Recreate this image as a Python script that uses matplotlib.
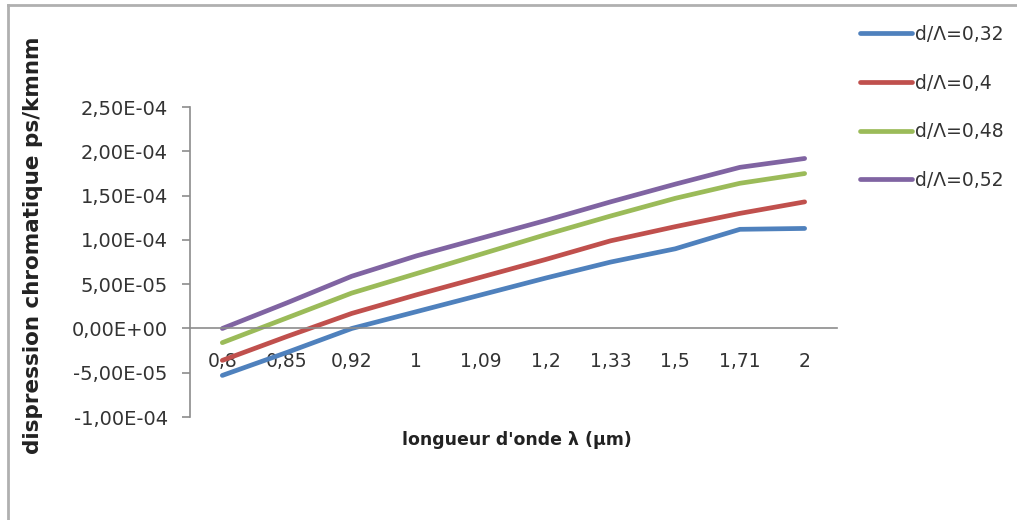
import matplotlib
matplotlib.use("Agg")
import matplotlib.pyplot as plt
from matplotlib.lines import Line2D
from matplotlib.ticker import FuncFormatter

# Wavelength categories (µm) and chromatic dispersion values per d/Λ ratio
wavelengths = ["0,8", "0,85", "0,92", "1", "1,09", "1,2", "1,33", "1,5", "1,71", "2"]
disp_032 = [-5.3e-05, -2.7e-05, 0.0e-05, 1.9e-05, 3.8e-05, 5.7e-05, 7.5e-05, 9.0e-05, 11.2e-05, 11.3e-05]
disp_040 = [-3.6e-05, -0.9e-05, 1.7e-05, 3.8e-05, 5.8e-05, 7.8e-05, 9.9e-05, 11.5e-05, 13.0e-05, 14.3e-05]
disp_048 = [-1.6e-05, 1.2e-05, 4.0e-05, 6.2e-05, 8.4e-05, 10.6e-05, 12.7e-05, 14.7e-05, 16.4e-05, 17.5e-05]
disp_052 = [0.0e-05, 2.9e-05, 5.9e-05, 8.2e-05, 10.2e-05, 12.2e-05, 14.3e-05, 16.3e-05, 18.2e-05, 19.2e-05]
series_labels = ["d/Λ=0,32", "d/Λ=0,4", "d/Λ=0,48", "d/Λ=0,52"]
series_colors = ["#4F81BD", "#C0504D", "#9BBB59", "#8064A2"]
y_ticks = [-1.0e-04, -5.0e-05, 0.0, 5.0e-05, 1.0e-04, 1.5e-04, 2.0e-04, 2.5e-04]

plt.rcParams["font.family"] = ["DejaVu Sans"]
text_color = "#333333"
axis_color = "#8c8c8c"

fig = plt.figure(figsize=(10.17, 5.2), dpi=100)
ax = fig.add_axes([0.1868, 0.198, 0.6362, 0.596])

x = list(range(len(wavelengths)))
for values, label, color in zip([disp_032, disp_040, disp_048, disp_052],
                                series_labels, series_colors):
    ax.plot(x, values, color=color, lw=3.4, label=label,
            solid_capstyle="round", solid_joinstyle="round")

ax.set_xlim(-0.5, len(wavelengths) - 0.5)
ax.set_ylim(-1.0e-04, 2.5e-04)
ax.set_yticks(y_ticks)
ax.yaxis.set_major_formatter(
    FuncFormatter(lambda v, _: ("%.2E" % v).replace(".", ",")))
ax.set_xticks(x)
ax.set_xticklabels(wavelengths)

for side in ("top", "right"):
    ax.spines[side].set_visible(False)
ax.spines["bottom"].set_position(("data", 0))
for side in ("left", "bottom"):
    ax.spines[side].set_color(axis_color)
    ax.spines[side].set_linewidth(1.2)

ax.tick_params(axis="y", direction="out", length=6, width=1.2,
               color=axis_color, labelsize=14, labelcolor=text_color, pad=10)
ax.tick_params(axis="x", length=0, labelsize=13.5, labelcolor=text_color, pad=17)

# Axis titles
fig.text(0.0325, 0.529, "dispression chromatique ps/kmnm", rotation=90,
         ha="center", va="center", fontsize=15.5, fontweight="bold",
         color="#222222")
fig.text(517 / 1017, 0.154, "longueur d'onde λ (µm)", ha="center",
         va="center", fontsize=12.5, fontweight="bold", color="#222222")

leg = fig.legend(loc="upper left", bbox_to_anchor=(0.8456, 0.952),
                 frameon=False, fontsize=13.5, handlelength=2.8,
                 handletextpad=0.15, labelspacing=1.58, borderpad=0,
                 borderaxespad=0)
for t in leg.get_texts():
    t.set_color(text_color)

# Chart area border
border_kw = dict(transform=fig.transFigure, color="#b0b0b0", lw=2)
fig.add_artist(Line2D([8 / 1017, 8 / 1017], [0, 1 - 5 / 520], **border_kw))
fig.add_artist(Line2D([8 / 1017, 1], [1 - 5 / 520, 1 - 5 / 520], **border_kw))

fig.savefig("out.png", dpi=100, facecolor="white")
